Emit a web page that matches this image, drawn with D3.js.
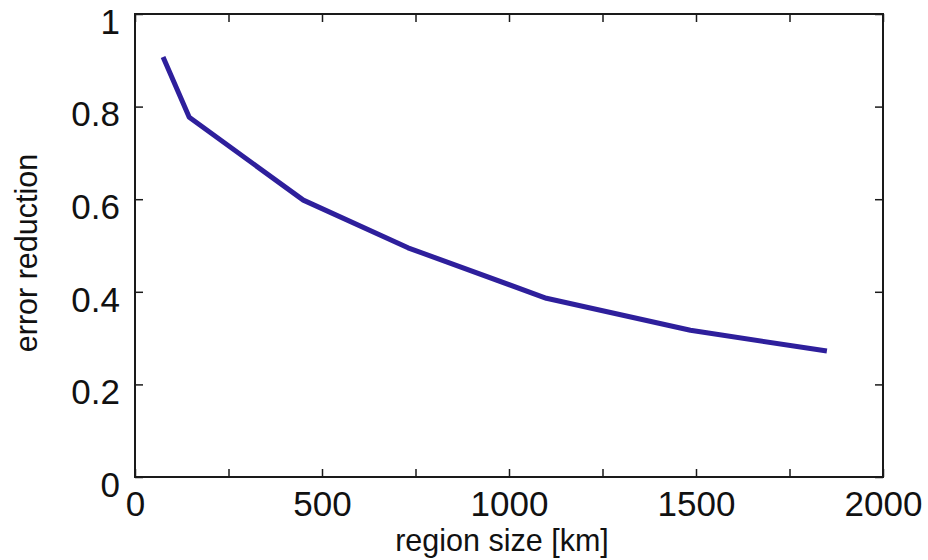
<!DOCTYPE html>
<html>
<head>
<meta charset="utf-8">
<script src="https://cdn.jsdelivr.net/npm/d3@7"></script>
<style>
html,body{margin:0;padding:0;background:#fff;}
svg{display:block;}
text{font-family:"Liberation Sans",Arial,Helvetica,sans-serif;fill:#111;}
</style>
</head>
<body>
<svg id="chart" width="928" height="560"></svg>
<script>
// Data
const regionSize = [75, 145, 450, 730, 1100, 1485, 1850];
const errorReduction = [0.907, 0.777, 0.598, 0.495, 0.386, 0.317, 0.272];
const xTickValues = [0, 250, 500, 750, 1000, 1250, 1500, 1750, 2000];
const xTickLabels = ["0", "", "500", "", "1000", "", "1500", "", "2000"];
const yTickValues = [0, 0.2, 0.4, 0.6, 0.8, 1];
const yTickLabels = ["0", "0.2", "0.4", "0.6", "0.8", "1"];
const xLabel = "region size [km]";
const yLabel = "error reduction";

const svg = d3.select("#chart");
const L = 135, R = 883, T = 14, B = 477;
const x = d3.scaleLinear().domain([0, 2000]).range([L, R]);
const y = d3.scaleLinear().domain([0, 1]).range([B, T]);
const tickLen = 8;
const axisColor = "#1a1a1a";

// frame
svg.append("rect").attr("x", L).attr("y", T).attr("width", R - L).attr("height", B - T)
  .attr("fill", "none").attr("stroke", axisColor).attr("stroke-width", 2);

// bottom axis (inward ticks)
const xb = svg.append("g").attr("transform", `translate(0,${B})`)
  .call(d3.axisBottom(x).tickValues(xTickValues).tickSizeInner(-tickLen).tickSizeOuter(0)
    .tickFormat((d, i) => xTickLabels[i]).tickPadding(14));
xb.select(".domain").remove();
xb.selectAll("line").attr("stroke", axisColor).attr("stroke-width", 1.5);
xb.selectAll("text").style("font-size", "35px").attr("fill", "#111");

// top axis ticks
const xt = svg.append("g").attr("transform", `translate(0,${T})`)
  .call(d3.axisTop(x).tickValues(xTickValues).tickSizeInner(-tickLen).tickSizeOuter(0).tickFormat(""));
xt.select(".domain").remove();
xt.selectAll("line").attr("stroke", axisColor).attr("stroke-width", 1.5);

// left axis
const yl = svg.append("g").attr("transform", `translate(${L},0)`)
  .call(d3.axisLeft(y).tickValues(yTickValues).tickSizeInner(-tickLen).tickSizeOuter(0)
    .tickFormat((d, i) => yTickLabels[i]).tickPadding(15));
yl.select(".domain").remove();
yl.selectAll("line").attr("stroke", axisColor).attr("stroke-width", 1.5);
yl.selectAll("text").style("font-size", "35px").attr("dy", "0.55em").attr("fill", "#111");

// right axis ticks
const yr = svg.append("g").attr("transform", `translate(${R},0)`)
  .call(d3.axisRight(y).tickValues(yTickValues).tickSizeInner(-tickLen).tickSizeOuter(0).tickFormat(""));
yr.select(".domain").remove();
yr.selectAll("line").attr("stroke", axisColor).attr("stroke-width", 1.5);

// axis labels
svg.append("text").attr("x", 502).attr("y", 551).attr("text-anchor", "middle")
  .style("font-size", "30.5px").text(xLabel);
svg.append("text").attr("transform", `translate(37,${253}) rotate(-90)`).attr("text-anchor", "middle")
  .style("font-size", "30.5px").text(yLabel);

// line
const data = regionSize.map((d, i) => [d, errorReduction[i]]);
svg.append("path").datum(data)
  .attr("fill", "none").attr("stroke", "#2e1f9c").attr("stroke-width", 5)
  .attr("stroke-linejoin", "round").attr("stroke-linecap", "butt")
  .attr("d", d3.line().x(d => x(d[0])).y(d => y(d[1])));
</script>
</body>
</html>
